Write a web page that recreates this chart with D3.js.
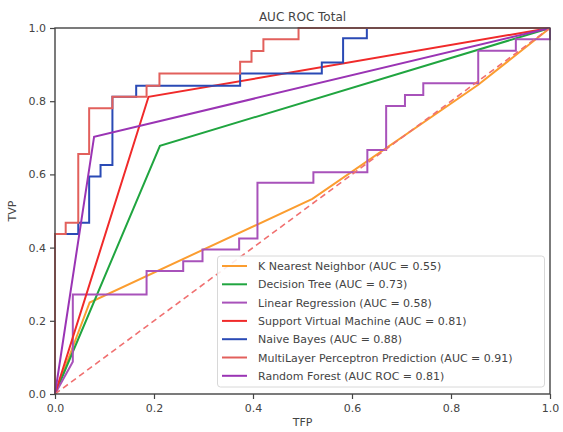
<!DOCTYPE html>
<html>
<head>
<meta charset="utf-8">
<script src="https://cdn.jsdelivr.net/npm/d3@7"></script>
<style>
  body { margin: 0; background: #fff; }
  text { font-family: "DejaVu Sans", sans-serif; }
</style>
</head>
<body>
<div id="vis"></div>
<script>
// ROC points (false positive rate / true positive rate)
var knnFpr = [0, 0.07, 0.52, 0.855, 1];
var knnTpr = [0, 0.25, 0.533, 0.845, 1];

var dtFpr = [0, 0.212, 1];
var dtTpr = [0, 0.678, 1];

var lrFpr = [0, 0.036, 0.036, 0.185, 0.185, 0.259, 0.259, 0.298, 0.298, 0.372, 0.372, 0.409, 0.409, 0.522, 0.522, 0.631, 0.631, 0.669, 0.669, 0.707, 0.707, 0.744, 0.744, 0.855, 0.855, 0.931, 0.931, 1, 1];
var lrTpr = [0, 0.088, 0.272, 0.272, 0.336, 0.336, 0.363, 0.363, 0.395, 0.395, 0.425, 0.425, 0.577, 0.577, 0.606, 0.606, 0.667, 0.667, 0.787, 0.787, 0.817, 0.817, 0.849, 0.849, 0.938, 0.938, 0.969, 0.969, 1];

var svmFpr = [0, 0.189, 1];
var svmTpr = [0, 0.812, 1];

var nbFpr = [0, 0, 0.047, 0.047, 0.069, 0.069, 0.092, 0.092, 0.116, 0.116, 0.164, 0.164, 0.374, 0.374, 0.539, 0.539, 0.582, 0.582, 0.630, 0.630, 1];
var nbTpr = [0, 0.437, 0.437, 0.468, 0.468, 0.594, 0.594, 0.626, 0.626, 0.812, 0.812, 0.842, 0.842, 0.876, 0.876, 0.906, 0.906, 0.972, 0.972, 1, 1];

var mlpFpr = [0, 0, 0.0216, 0.0216, 0.047, 0.047, 0.069, 0.069, 0.116, 0.116, 0.185, 0.185, 0.211, 0.211, 0.374, 0.374, 0.397, 0.397, 0.421, 0.421, 0.492, 0.492, 1];
var mlpTpr = [0, 0.437, 0.437, 0.468, 0.468, 0.656, 0.656, 0.781, 0.781, 0.8125, 0.8125, 0.842, 0.842, 0.876, 0.876, 0.908, 0.908, 0.937, 0.937, 0.969, 0.969, 1, 1];

var rfFpr = [0, 0.079, 1];
var rfTpr = [0, 0.703, 1];

var labels = [
  "K Nearest Neighbor (AUC = 0.55)",
  "Decision Tree (AUC = 0.73)",
  "Linear Regression (AUC = 0.58)",
  "Support Virtual Machine (AUC = 0.81)",
  "Naive Bayes (AUC = 0.88)",
  "MultiLayer Perceptron Prediction (AUC = 0.91)",
  "Random Forest (AUC ROC = 0.81)"
];
var colors = ["#fb9d30", "#20a540", "#a852ba", "#f02a2a", "#2a4ab5", "#e2605c", "#9a34b4"];

var xTicks = [0, 0.2, 0.4, 0.6, 0.8, 1.0];
var yTicks = [0, 0.2, 0.4, 0.6, 0.8, 1.0];

var series = [
  [knnFpr, knnTpr], [dtFpr, dtTpr], [lrFpr, lrTpr], [svmFpr, svmTpr],
  [nbFpr, nbTpr], [mlpFpr, mlpTpr], [rfFpr, rfTpr]
];

var W = 563, H = 432;
var mLeft = 55, mRight = 550, mTop = 28, mBottom = 394;

var x = d3.scaleLinear().domain([0, 1]).range([mLeft, mRight]),
    y = d3.scaleLinear().domain([0, 1]).range([mBottom, mTop]);

var svg = d3.select("#vis").append("svg")
    .attr("width", W)
    .attr("height", H);

var line = d3.line()
    .x(function(d) { return x(d[0]); })
    .y(function(d) { return y(d[1]); });

series.forEach(function(s, i) {
  svg.append("path")
      .datum(d3.zip(s[0], s[1]))
      .attr("d", line)
      .attr("fill", "none")
      .attr("stroke", colors[i])
      .attr("stroke-width", 2);
});

// chance diagonal
svg.append("path")
    .datum([[0, 0], [1, 1]])
    .attr("d", line)
    .attr("fill", "none")
    .attr("stroke", "#f07070")
    .attr("stroke-width", 1.6)
    .attr("stroke-dasharray", "6,4");

// axes
var xAxis = d3.axisBottom(x).tickValues(xTicks).tickFormat(d3.format(".1f")).tickSize(5).tickPadding(5),
    yAxis = d3.axisLeft(y).tickValues(yTicks).tickFormat(d3.format(".1f")).tickSize(5).tickPadding(4);

var gx = svg.append("g")
    .attr("transform", "translate(0," + mBottom + ")")
    .call(xAxis);
var gy = svg.append("g")
    .attr("transform", "translate(" + mLeft + ",0)")
    .call(yAxis);

[gx, gy].forEach(function(g) {
  g.select(".domain").remove();
  g.selectAll(".tick line").attr("stroke", "#444").attr("stroke-width", 1.2);
  g.selectAll(".tick text").attr("fill", "#444").attr("font-size", 11)
      .style("font-family", "DejaVu Sans, sans-serif");
});

// spines
svg.append("rect")
    .attr("x", mLeft)
    .attr("y", mTop)
    .attr("width", mRight - mLeft)
    .attr("height", mBottom - mTop)
    .attr("fill", "none")
    .attr("stroke", "#444")
    .attr("stroke-width", 1.4);

// title and axis labels
svg.append("text")
    .attr("x", (mLeft + mRight) / 2)
    .attr("y", 21)
    .attr("text-anchor", "middle")
    .attr("font-size", 12)
    .attr("fill", "#444")
    .text("AUC ROC Total");

svg.append("text")
    .attr("x", (mLeft + mRight) / 2)
    .attr("y", 426)
    .attr("text-anchor", "middle")
    .attr("font-size", 11)
    .attr("fill", "#444")
    .text("TFP");

svg.append("text")
    .attr("transform", "translate(16," + (mTop + mBottom) / 2 + ") rotate(-90)")
    .attr("text-anchor", "middle")
    .attr("font-size", 11)
    .attr("fill", "#444")
    .text("TVP");

// legend
var lg = svg.append("g");
lg.append("rect")
    .attr("x", 217.5)
    .attr("y", 256)
    .attr("width", 327)
    .attr("height", 131)
    .attr("rx", 3)
    .attr("fill", "#fff")
    .attr("fill-opacity", 0.85)
    .attr("stroke", "#d8d8d8");

labels.forEach(function(lab, i) {
  var cy = 266 + i * 18.3;
  lg.append("line")
      .attr("x1", 222).attr("x2", 247)
      .attr("y1", cy).attr("y2", cy)
      .attr("stroke", colors[i])
      .attr("stroke-width", 2);
  lg.append("text")
      .attr("x", 258)
      .attr("y", cy + 4)
      .attr("font-size", 11)
      .attr("fill", "#444")
      .text(lab);
});
</script>
</body>
</html>
